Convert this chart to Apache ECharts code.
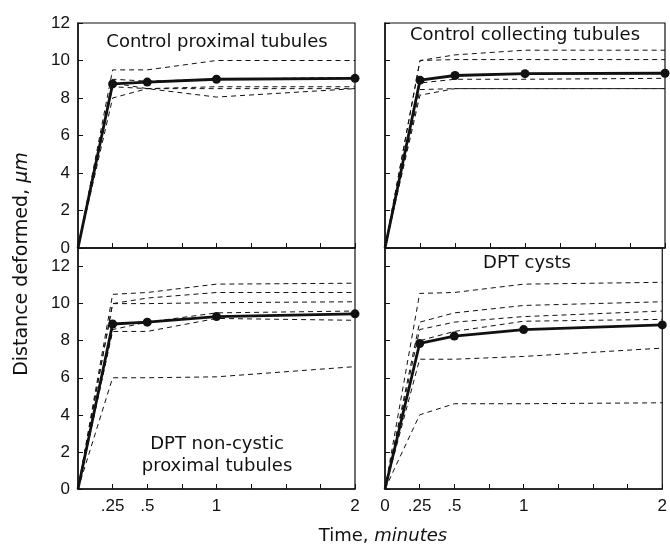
<!DOCTYPE html>
<html>
<head>
<meta charset="utf-8">
<script src="https://cdn.jsdelivr.net/npm/echarts@6/dist/echarts.min.js"></script>
<style>
  html, body { margin: 0; padding: 0; background: #fff; }
  #chart { width: 670px; height: 545px; }
</style>
</head>
<body>
<div id="chart"></div>
<script>
// time points (minutes)
var times = [0, 0.25, 0.5, 1, 2];
var tickLabels = { '0': '0', '0.25': '.25', '0.5': '.5', '1': '1', '2': '2' };

// control proximal tubules
var cpMean = [0, 8.75, 8.85, 9.0, 9.05];
var cpRuns = [
    [0, 9.5, 9.5, 10.0, 10.0],
    [0, 9.0, 8.9, 9.0, 9.1],
    [0, 8.6, 8.5, 8.5, 8.5],
    [0, 8.8, 8.5, 8.05, 8.5],
    [0, 8.0, 8.5, 8.6, 8.6]
];

// control collecting tubules
var ccMean = [0, 8.95, 9.2, 9.3, 9.32];
var ccRuns = [
    [0, 10.0, 10.3, 10.55, 10.55],
    [0, 10.0, 10.05, 10.05, 10.05],
    [0, 8.8, 9.0, 9.0, 9.05],
    [0, 8.45, 8.5, 8.5, 8.5],
    [0, 8.15, 8.5, 8.5, 8.5]
];

// DPT non-cystic proximal tubules
var dnMean = [0, 8.9, 9.0, 9.3, 9.45];
var dnRuns = [
    [0, 10.5, 10.6, 11.05, 11.1],
    [0, 10.0, 10.3, 10.6, 10.6],
    [0, 10.0, 10.0, 10.05, 10.1],
    [0, 8.6, 9.0, 9.5, 9.6],
    [0, 8.5, 8.5, 9.2, 9.1],
    [0, 6.0, 6.0, 6.05, 6.6]
];

// DPT cysts
var dcMean = [0, 7.85, 8.25, 8.6, 8.85];
var dcRuns = [
    [0, 10.55, 10.6, 11.05, 11.15],
    [0, 9.0, 9.5, 9.9, 10.1],
    [0, 8.6, 9.0, 9.3, 9.6],
    [0, 8.0, 8.5, 9.05, 9.15],
    [0, 7.0, 7.0, 7.15, 7.6],
    [0, 4.0, 4.6, 4.6, 4.65]
];

var panels = [
    { mean: cpMean, runs: cpRuns, ymax: 12 },
    { mean: ccMean, runs: ccRuns, ymax: 12 },
    { mean: dnMean, runs: dnRuns, ymax: 13 },
    { mean: dcMean, runs: dcRuns, ymax: 13 }
];

var tickFont = '"Liberation Sans", Arial, sans-serif';
var textFont = '"DejaVu Sans", sans-serif';

function pairs(vals) {
    return times.map(function (t, i) { return [t, vals[i]]; });
}

var grids = [
    { left: 78, top: 23, width: 277, height: 225 },
    { left: 385, top: 23, width: 280, height: 225 },
    { left: 78, top: 248, width: 277, height: 241 },
    { left: 385, top: 248, width: 280, height: 241 }
].map(function (g) {
    g.show = true; g.borderColor = '#111'; g.borderWidth = 1.2; g.backgroundColor = 'transparent';
    return g;
});

var xAxes = [], yAxes = [], series = [];
panels.forEach(function (p, k) {
    xAxes.push({
        type: 'value', gridIndex: k, min: 0, max: 2, interval: 0.25,
        axisLine: { show: true, lineStyle: { color: '#111', width: 1.5 } },
        axisTick: { show: true, inside: true, length: 5, lineStyle: { color: '#111' } },
        splitLine: { show: false },
        axisLabel: {
            show: k >= 2, color: '#111', fontSize: 17, fontFamily: tickFont, margin: 9,
            formatter: function (v) {
                if (k === 2 && v === 0) return '';
                return tickLabels[String(v)] || '';
            }
        }
    });
    yAxes.push({
        type: 'value', gridIndex: k, min: 0, max: p.ymax, interval: 2,
        axisLine: { show: true, lineStyle: { color: '#111', width: 1.5 } },
        axisTick: { show: true, inside: true, length: 5, lineStyle: { color: '#111' } },
        splitLine: { show: false },
        axisLabel: {
            show: k % 2 === 0, color: '#111', fontSize: 17, fontFamily: tickFont, margin: 8,
            showMaxLabel: p.ymax === 12
        }
    });
    p.runs.forEach(function (r) {
        series.push({
            type: 'line', xAxisIndex: k, yAxisIndex: k, data: pairs(r),
            symbol: 'none', silent: true,
            lineStyle: { color: '#111', width: 1, type: [5, 4] }
        });
    });
    series.push({
        type: 'line', xAxisIndex: k, yAxisIndex: k,
        data: pairs(p.mean).map(function (d, i) {
            return i === 0 ? { value: d, symbolSize: 0 } : d;
        }),
        symbol: 'circle', symbolSize: 9, silent: true, z: 5,
        itemStyle: { color: '#111' },
        lineStyle: { color: '#111', width: 2.8 }
    });
});

var txt = { fill: '#111', font: '18px ' + textFont, textAlign: 'center', textVerticalAlign: 'middle' };
function label(x, y, s) {
    return { type: 'text', x: x, y: y, z: 10, style: Object.assign({ text: s }, txt) };
}

var option = {
    animation: false,
    backgroundColor: '#fff',
    grid: grids,
    xAxis: xAxes,
    yAxis: yAxes,
    series: series,
    graphic: [
        label(217, 42, 'Control proximal tubules'),
        label(525, 35, 'Control collecting tubules'),
        label(527, 263, 'DPT cysts'),
        label(217, 444, 'DPT non-cystic'),
        label(217, 466, 'proximal tubules'),
        {
            type: 'text', x: 383, y: 536, z: 10,
            style: {
                text: 'Time, {i|minutes}', fill: '#111', font: '18px ' + textFont,
                textAlign: 'center', textVerticalAlign: 'middle',
                rich: { i: { fontStyle: 'italic', fontSize: 18, fontFamily: textFont } }
            }
        },
        {
            type: 'text', x: 22, y: 264, rotation: Math.PI / 2, z: 10,
            style: {
                text: 'Distance deformed, {i|\u03bcm}', fill: '#111', font: '19px ' + textFont,
                textAlign: 'center', textVerticalAlign: 'middle',
                rich: { i: { fontStyle: 'italic', fontSize: 19, fontFamily: textFont } }
            }
        }
    ]
};

var myChart = echarts.init(document.getElementById('chart'));
myChart.setOption(option);
</script>
</body>
</html>
